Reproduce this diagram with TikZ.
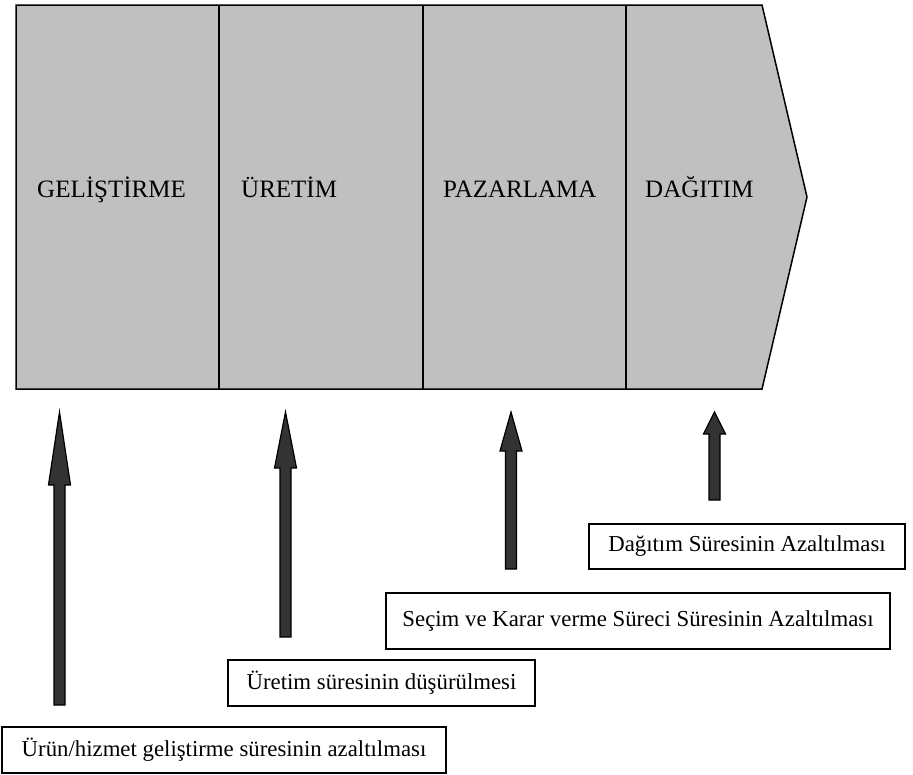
\documentclass[tikz,border=0pt]{standalone}
\usepackage{fontspec}
\setmainfont{Liberation Serif}
\definecolor{chainfill}{HTML}{C0C0C0}
\definecolor{arrowfill}{HTML}{333333}
% Upward block arrow: x centre, tip y, head base y, tail y
\newcommand\blockup[4]{%
  \draw[blockarrow] (#1,#2) -- (#1+11,#3) -- (#1+5.5,#3) -- (#1+5.5,#4)
    -- (#1-5.5,#4) -- (#1-5.5,#3) -- (#1-11,#3) -- cycle;}
\begin{document}
\begin{tikzpicture}[x=1pt,y=-1pt,
  chainshape/.style={fill=chainfill,draw=black,line width=1.5pt,line join=miter},
  divider/.style={draw=black,line width=1.5pt},
  stage/.style={anchor=base west,inner sep=0pt,font=\fontsize{25}{28}\selectfont},
  blockarrow/.style={fill=arrowfill,draw=black,line width=1.2pt,line join=miter},
  goalbox/.style={draw=black,line width=1.3pt,fill=white,inner sep=0pt,
    font=\fontsize{22.8}{26}\selectfont}]
\useasboundingbox (0,0) rectangle (913,774);

% value chain outline
\path[chainshape] (16,5) -- (762,5) -- (807,197) -- (762,389) -- (16,389) -- cycle;
\foreach \x in {219,423,626} \draw[divider] (\x,5) -- (\x,389);

% stage labels
\node[stage] (dev)  at (37,197)  {GELİŞTİRME};
\node[stage] (prod) at (241,197) {ÜRETİM};
\node[stage] (mkt)  at (443,197) {PAZARLAMA};
\node[stage] (dist) at (645,197) {DAĞITIM};

% block arrows
\blockup{59.5}{412}{485}{705}
\blockup{285.5}{412}{468}{637}
\blockup{511}{412}{451}{569}
\blockup{714.5}{412}{434}{500}

% goal boxes
\node[goalbox,minimum width=444pt,minimum height=46pt] (g1) at (224,750)
  {Ürün/hizmet geliştirme süresinin azaltılması};
\node[goalbox,minimum width=307pt,minimum height=46pt] (g2) at (381.5,683)
  {Üretim süresinin düşürülmesi};
\node[goalbox,minimum width=504pt,minimum height=56pt] (g3) at (638,621)
  {Seçim ve Karar verme Süreci Süresinin Azaltılması};
\node[goalbox,minimum width=316pt,minimum height=45pt] (g4) at (747,546.5)
  {Dağıtım Süresinin Azaltılması};
\end{tikzpicture}
\end{document}
